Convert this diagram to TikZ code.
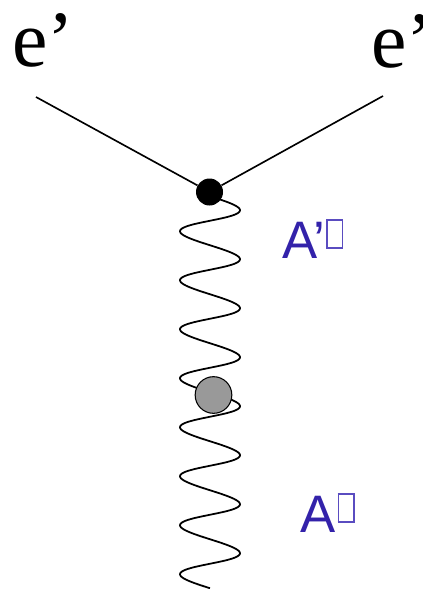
\documentclass[tikz,border=0pt]{standalone}
\usepackage{fontspec}
\setmainfont{Liberation Serif}
\newfontfamily\labelsans{Liberation Sans}
\usepackage{xcolor}
\usetikzlibrary{positioning}
\definecolor{photonblue}{HTML}{3322AA}
\definecolor{glyphbox}{HTML}{5A4CC0}
\definecolor{blobgray}{HTML}{999999}

% empty box where the label's missing glyph was
\newcommand{\nogl}{{\setlength{\fboxsep}{0pt}\setlength{\fboxrule}{1.3pt}%
  \raisebox{9.4pt}{\textcolor{glyphbox}{\fbox{\rule{0pt}{22.2pt}\hspace{11.9pt}}}}}}

\begin{document}
\begin{tikzpicture}[
  x=0.03cm, y=-0.03cm,
  fermion/.style={line width=1.4pt},
  photon/.style={line width=1.5pt},
  vertex/.style={circle, fill=black, inner sep=0pt, minimum size=0.81cm},
  blob/.style={circle, fill=blobgray, draw=black, line width=0.9pt, inner sep=0pt, minimum size=1.1cm},
  elbl/.style={inner sep=0pt, anchor=base west, font=\fontsize{68}{68}\selectfont},
  albl/.style={inner sep=0pt, anchor=base west, text=photonblue, font=\labelsans\fontsize{45}{45}\selectfont}
]
\useasboundingbox (0,0) rectangle (423,589);

% photon line, drawn first so the dots sit on it
\draw[photon] plot[domain=0:2880, samples=480, smooth]
  ({210+30*sin(\x)}, {196.25+0.136111*\x+1.75*sin(\x)});

\node[vertex] (v) at (209.5,192) {};
\node[blob] (b) at (213.5,395) {};

\coordinate (ein) at (36,97);
\coordinate (eout) at (383,96);
\draw[fermion] (ein) -- (v);
\draw[fermion] (eout) -- (v);

\node[elbl] (el) at (12,66) {e’};
\node[elbl] (er) at (371,67) {e’};

\node[albl] (ap) at (282,258) {A’\kern1pt\nogl};
\node[albl] (a) at (300,532) {A\kern2pt\nogl};

\end{tikzpicture}
\end{document}
